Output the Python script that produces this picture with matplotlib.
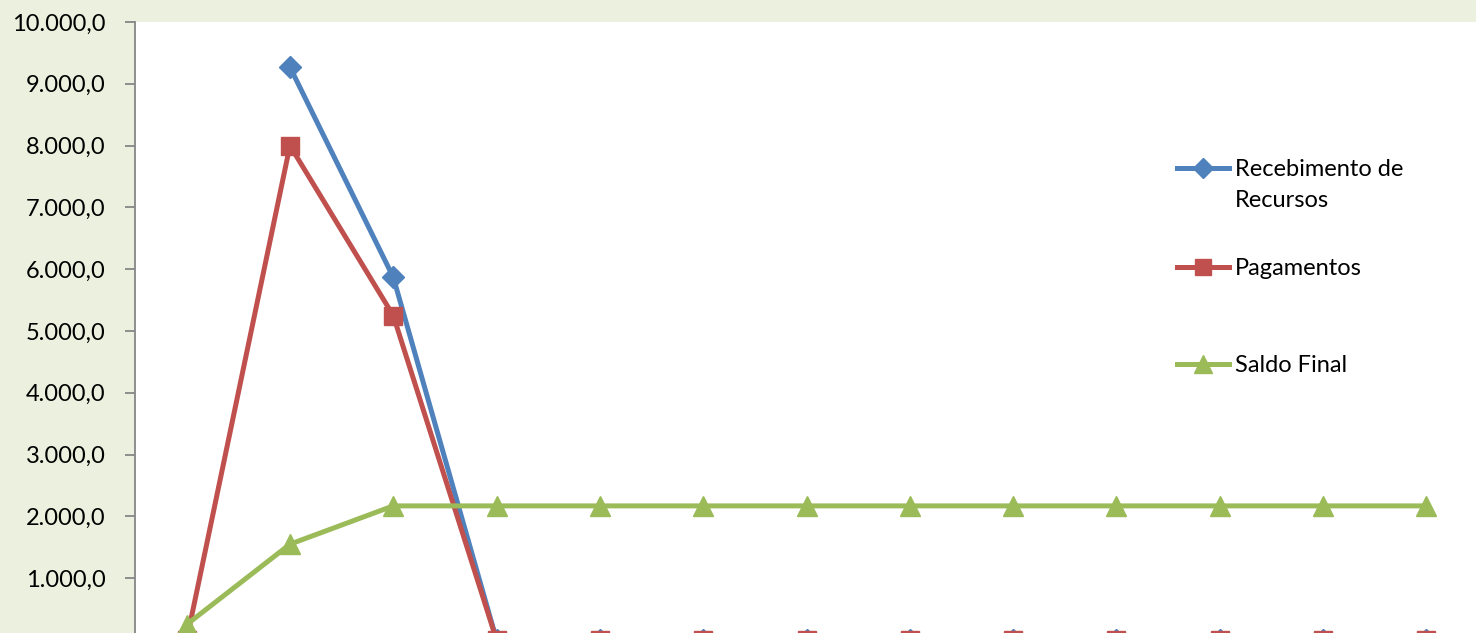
import matplotlib
matplotlib.use("Agg")
import matplotlib.pyplot as plt
from matplotlib.lines import Line2D
from matplotlib.ticker import FuncFormatter
import numpy as np

# Data (13 periods)
periods = list(range(13))
recebimento = [np.nan, 9270, 5870, 0, 0, 0, 0, 0, 0, 0, 0, 0, 0]
pagamentos = [0, 8000, 5250, 0, 0, 0, 0, 0, 0, 0, 0, 0, 0]
saldo_final = [250, 1550, 2170, 2170, 2170, 2170, 2170, 2170, 2170, 2170, 2170, 2170, 2170]

series_names = ["Recebimento de\nRecursos", "Pagamentos", "Saldo Final"]
colors = ["#4F81BD", "#C0504D", "#9BBB59"]
markers = ["D", "s", "^"]
msizes = [11, 13, 14]

plt.rcParams['font.family'] = ['Lato', 'DejaVu Sans']

W, H = 1476, 633
fig = plt.figure(figsize=(W / 100, H / 100), dpi=100)
fig.patch.set_facecolor("#EBF1DE")

left = 135 / W
top = 1 - 22 / H
bottom = (H - 640) / H
right = 1478 / W
ax = fig.add_axes([left, bottom, right - left, top - bottom])
ax.set_facecolor("white")

for vals, c, m, ms in zip([recebimento, pagamentos, saldo_final], colors, markers, msizes):
    ax.plot(periods, vals, color=c, marker=m, markersize=ms, linewidth=3.6,
            markeredgecolor=c, clip_on=False, zorder=3)

ax.set_xlim(-0.5, 12.5)
ax.set_ylim(0, 10000)
# the 0 tick lies below the visible part of the chart
ax.set_yticks(np.arange(1000, 10001, 1000))
ax.yaxis.set_major_formatter(FuncFormatter(
    lambda v, p: f"{v:,.1f}".replace(",", "X").replace(".", ",").replace("X", ".")))
ax.tick_params(axis='y', direction='out', length=7, width=1.3, color="#868686",
               labelsize=17, pad=14)
ax.set_xticks([])
for s in ["top", "right", "bottom"]:
    ax.spines[s].set_visible(False)
ax.spines["left"].set_color("#868686")
ax.spines["left"].set_linewidth(1.3)

# Legend drawn manually (Excel-style, handle aligned with first text line)
leg_y = [168, 267, 364]
for name, c, m, ms, y in zip(series_names, colors, markers, msizes, leg_y):
    fy = 1 - y / H
    fig.add_artist(Line2D([1177 / W, 1229 / W], [fy, fy], color=c, linewidth=3.6,
                          transform=fig.transFigure))
    fig.add_artist(Line2D([1203 / W], [fy], color=c, marker=m, markersize=ms - 1,
                          markeredgecolor=c, transform=fig.transFigure))
    fig.text(1235 / W, fy + 9 / H, name, fontsize=17, va="top", ha="left",
             linespacing=1.6)

fig.savefig("out.png", dpi=100, facecolor=fig.get_facecolor())
